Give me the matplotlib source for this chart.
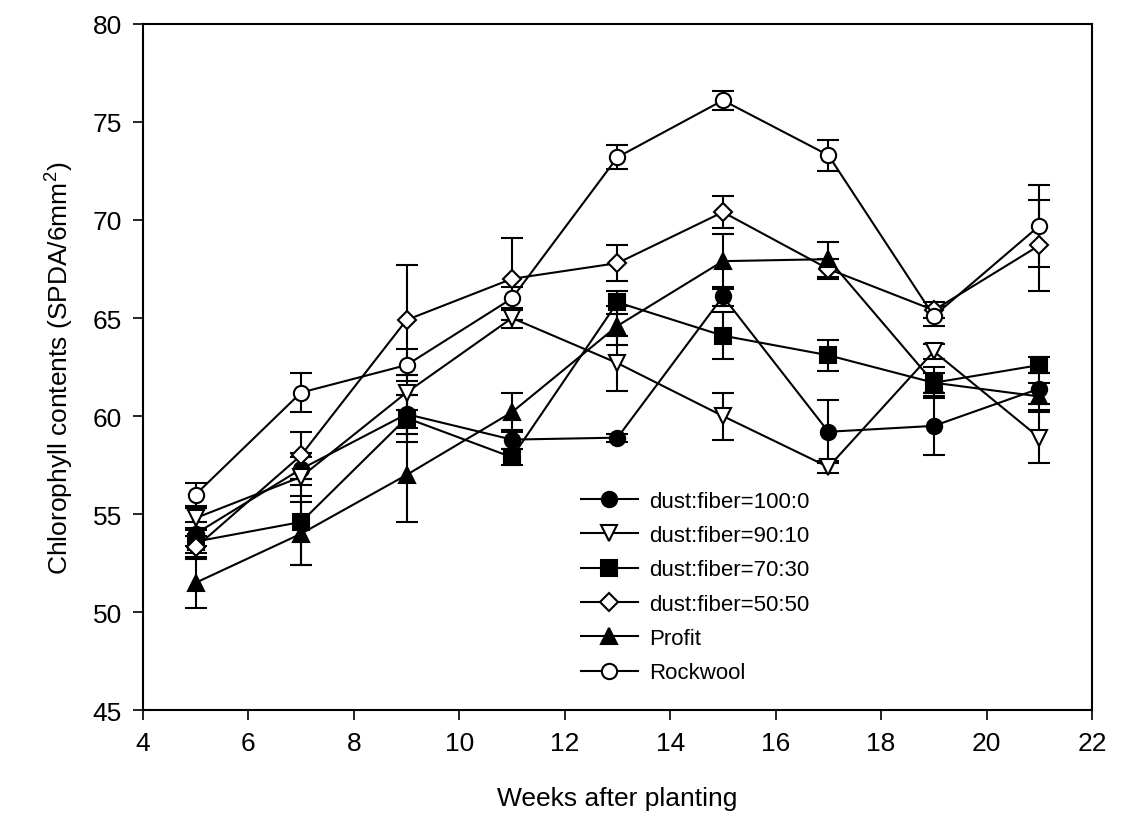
import numpy as np
import matplotlib
matplotlib.use('Agg')
import matplotlib.pyplot as plt

plt.rcParams['font.family'] = ['Liberation Sans', 'DejaVu Sans']
plt.rcParams['mathtext.default'] = 'regular'

"""data read off the figure"""
weeks = [5, 7, 9, 11, 13, 15, 17, 19, 21]

d100_0 = [54.0, 57.3, 60.1, 58.8, 58.9, 66.1, 59.2, 59.5, 61.4]
d100_0_err = [0.6, 0.8, 1.0, 0.5, 0.2, 0.5, 1.6, 1.5, 0.8]
d90_10 = [54.8, 56.9, 61.2, 65.0, 62.7, 60.0, 57.4, 63.3, 58.9]
d90_10_err = [0.5, 1.0, 0.9, 0.5, 1.4, 1.2, 0.3, 0.4, 1.3]
d70_30 = [53.6, 54.6, 59.9, 57.9, 65.8, 64.1, 63.1, 61.7, 62.6]
d70_30_err = [0.6, 2.2, 1.2, 0.4, 0.6, 1.2, 0.8, 0.5, 0.4]
d50_50 = [53.3, 58.0, 64.9, 67.0, 67.8, 70.4, 67.5, 65.4, 68.7]
d50_50_err = [0.6, 1.2, 2.8, 2.1, 0.9, 0.8, 0.5, 0.4, 2.3]
profit = [51.5, 54.0, 57.0, 60.2, 64.6, 67.9, 68.0, 61.7, 61.0]
profit_err = [1.3, 1.6, 2.4, 1.0, 1.0, 1.4, 0.9, 0.8, 0.7]
rockwool = [56.0, 61.2, 62.6, 66.0, 73.2, 76.1, 73.3, 65.1, 69.7]
rockwool_err = [0.6, 1.0, 0.8, 0.6, 0.6, 0.5, 0.8, 0.5, 2.1]

labels = ['dust:fiber=100:0', 'dust:fiber=90:10', 'dust:fiber=70:30',
          'dust:fiber=50:50', 'Profit', 'Rockwool']

fig = plt.figure(figsize=(11.34, 8.28), dpi=100)
ax = fig.add_axes([0.126, 0.141, 0.837, 0.829])

series = [(d100_0, d100_0_err, 'o', 'black'),
          (d90_10, d90_10_err, 'v', 'white'),
          (d70_30, d70_30_err, 's', 'black'),
          (d50_50, d50_50_err, 'D', 'white'),
          (profit, profit_err, '^', 'black'),
          (rockwool, rockwool_err, 'o', 'white')]

handles = []
for (vals, err, mk, fc), lab in zip(series, labels):
    ms = 9 if mk == 'D' else 11
    cont = ax.errorbar(weeks, vals, yerr=err, marker=mk, ms=ms, mfc=fc, mec='black',
                       mew=1.5, color='black', lw=1.5, elinewidth=1.5, capsize=8,
                       capthick=1.5, label=lab)
    handles.append(cont[0])

ax.set_xlim(4, 22)
ax.set_ylim(45, 80)
ax.set_xticks(np.arange(4, 23, 2))
ax.set_yticks(np.arange(45, 81, 5))
ax.tick_params(labelsize=19, direction='out', length=7, width=1.2, pad=8)
for s in ax.spines.values():
    s.set_linewidth(1.5)

ax.set_xlabel('Weeks after planting', fontsize=19, labelpad=22)
ax.set_ylabel(r'Chlorophyll contents (SPDA/6mm$^2$)', fontsize=19, labelpad=12)

leg = ax.legend(handles, labels, loc='lower left', bbox_to_anchor=(0.44, 0.01),
                frameon=False, fontsize=16, handlelength=2.6, labelspacing=0.6,
                handletextpad=0.5)

plt.savefig('out.png', dpi=100)
